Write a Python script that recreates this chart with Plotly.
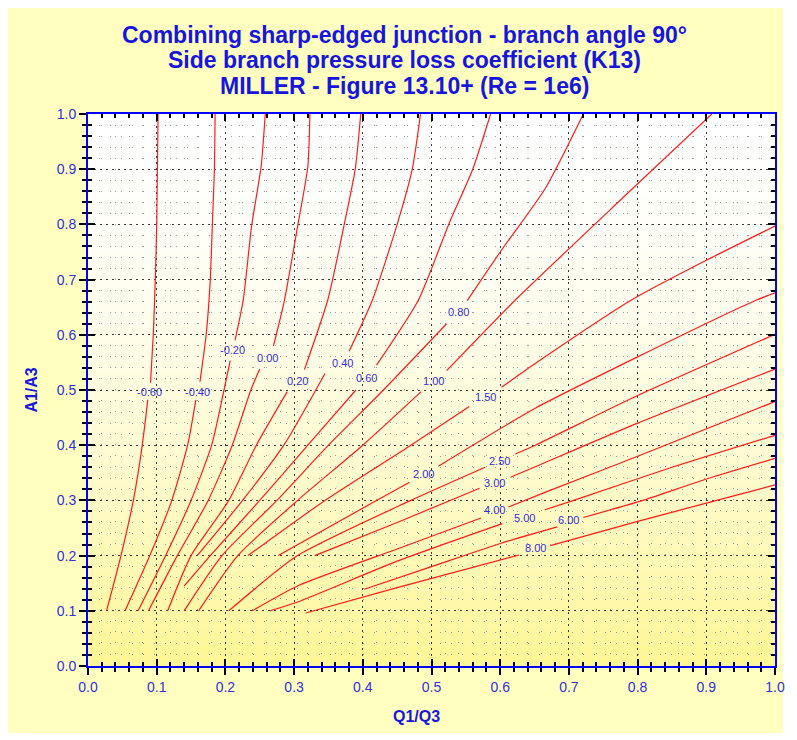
import plotly.graph_objects as go

# K13 contour levels (side branch loss coefficient)
LEVELS = [-0.6, -0.4, -0.2, 0.0, 0.2, 0.4, 0.6, 0.8, 1.0, 1.5, 2.0, 2.5, 3.0, 4.0, 5.0, 6.0, 8.0]

# contour polylines: Q1/Q3 (x) and A1/A3 (y); None marks the gap left for the label
CONTOUR_X = [
    [0.027, 0.048, 0.066, 0.079, 0.087, None, 0.091, 0.095, 0.098, 0.100, 0.101, 0.102],
    [0.054, 0.090, 0.122, 0.145, 0.157, None, 0.163, 0.172, 0.178, 0.181, 0.184, 0.185],
    [0.073, 0.113, 0.150, 0.180, 0.198, 0.207, None, 0.214, 0.226, 0.238, 0.252, 0.258],
    [0.088, 0.130, 0.175, 0.210, 0.237, 0.250, None, 0.270, 0.286, 0.305, 0.320, 0.323],
    [0.116, 0.150, 0.205, 0.245, 0.290, None, 0.315, 0.349, 0.373, 0.389, 0.397],
    [0.159, 0.225, 0.285, 0.345, None, 0.380, 0.414, 0.450, 0.472, 0.484],
    [0.140, 0.178, 0.250, 0.320, 0.390, None, 0.420, 0.481, 0.525, 0.560, 0.586],
    [0.140, 0.195, 0.275, 0.350, 0.430, 0.522, None, 0.552, 0.600, 0.666, 0.721],
    [0.161, 0.218, 0.305, 0.400, 0.485, None, 0.522, 0.622, 0.780, 0.908],
    [0.233, 0.345, 0.470, 0.555, None, 0.602, 0.651, 0.791, 0.900, 1.000],
    [0.277, 0.420, 0.468, None, 0.510, 0.651, 0.800, 0.973, 1.000],
    [0.205, 0.305, 0.470, 0.578, None, 0.622, 0.651, 0.800, 1.000],
    [0.330, 0.450, 0.570, None, 0.615, 0.651, 0.800, 1.000],
    [0.239, 0.305, 0.450, 0.572, None, 0.612, 0.666, 0.800, 1.000],
    [0.265, 0.305, 0.450, 0.603, None, 0.665, 0.709, 0.850, 1.000],
    [0.402, 0.500, 0.600, 0.683, None, 0.721, 0.810, 0.896, 1.000],
    [0.317, 0.450, 0.627, None, 0.673, 0.800, 0.900, 1.000],
]
CONTOUR_Y = [
    [0.10, 0.20, 0.30, 0.40, 0.482, None, 0.513, 0.60, 0.70, 0.80, 0.90, 1.00],
    [0.10, 0.20, 0.30, 0.40, 0.482, None, 0.515, 0.60, 0.70, 0.80, 0.90, 1.00],
    [0.10, 0.20, 0.30, 0.40, 0.50, 0.553, None, 0.590, 0.663, 0.796, 0.905, 1.00],
    [0.10, 0.20, 0.30, 0.40, 0.50, 0.538, None, 0.580, 0.663, 0.796, 0.905, 1.00],
    [0.10, 0.20, 0.30, 0.40, 0.497, None, 0.537, 0.663, 0.80, 0.90, 1.00],
    [0.20, 0.30, 0.40, 0.53, None, 0.570, 0.663, 0.80, 0.90, 1.00],
    [0.145, 0.20, 0.30, 0.40, 0.500, None, 0.545, 0.663, 0.80, 0.90, 1.00],
    [0.10, 0.20, 0.30, 0.40, 0.50, 0.620, None, 0.662, 0.75, 0.866, 1.00],
    [0.10, 0.20, 0.30, 0.40, 0.497, None, 0.535, 0.663, 0.85, 1.00],
    [0.20, 0.30, 0.40, 0.470, None, 0.505, 0.548, 0.663, 0.735, 0.797],
    [0.20, 0.30, 0.333, None, 0.362, 0.467, 0.56, 0.663, 0.676],
    [0.10, 0.20, 0.30, 0.360, None, 0.384, 0.400, 0.49, 0.601],
    [0.20, 0.26, 0.322, None, 0.342, 0.361, 0.44, 0.538],
    [0.10, 0.145, 0.212, 0.268, None, 0.288, 0.315, 0.38, 0.479],
    [0.10, 0.116, 0.19, 0.258, None, 0.283, 0.301, 0.36, 0.418],
    [0.139, 0.18, 0.222, 0.252, None, 0.269, 0.301, 0.337, 0.376],
    [0.096, 0.142, 0.201, None, 0.218, 0.262, 0.295, 0.328],
]
# label anchor points on each contour
LABEL_X = [0.089, 0.160, 0.211, 0.262, 0.305, 0.370, 0.406, 0.540, 0.503, 0.579,
           0.488, 0.599, 0.592, 0.591, 0.635, 0.700, 0.651]
LABEL_Y = [0.497, 0.497, 0.572, 0.558, 0.516, 0.549, 0.522, 0.641, 0.516, 0.487,
           0.348, 0.371, 0.332, 0.283, 0.268, 0.264, 0.214]

TITLE_LINES = [
    "Combining sharp-edged junction - branch angle 90°",
    "Side branch pressure loss coefficient (K13)",
    "MILLER - Figure 13.10+ (Re = 1e6)",
]
X_TITLE = "Q1/Q3"
Y_TITLE = "A1/A3"

W, H = 797, 740
L, R, T, B = 88, 15, 114, 74
PW, PH = W - L - R, H - T - B

BLUE = "#1616e0"
TICKBLUE = "#3030e0"
FONT = "Liberation Sans, Arial, sans-serif"


def px_x(px):
    return (px - L) / PW


def px_y(py):
    return (H - B - py) / PH


fig = go.Figure()

for lvl, xs, ys, lx, ly in zip(LEVELS, CONTOUR_X, CONTOUR_Y, LABEL_X, LABEL_Y):
    fig.add_trace(go.Scatter(
        x=xs, y=ys, mode="lines",
        line=dict(color="#ff1c1c", width=1.2, shape="spline", smoothing=0.6),
        connectgaps=False, hoverinfo="skip", showlegend=False,
    ))
    fig.add_annotation(x=lx, y=ly, text=f"{lvl:.2f}", showarrow=False,
                       font=dict(family=FONT, size=11, color=TICKBLUE),
                       xanchor="center", yanchor="middle")

# helper trace so the overlay axes (inner ticks) get drawn
fig.add_trace(go.Scatter(x=[0, 1], y=[0, 1], xaxis="x2", yaxis="y2", mode="markers",
                         marker=dict(opacity=0), hoverinfo="skip", showlegend=False))

axis_common = dict(
    range=[0, 1], dtick=0.1, tick0=0, tickformat=".1f",
    showline=True, linecolor="#0000ff", linewidth=2,
    tickcolor="#000000", tickwidth=2, ticklen=7, ticks="outside",
    tickfont=dict(family=FONT, size=14, color=TICKBLUE),
    showgrid=True, gridcolor="#3a3a3a", gridwidth=1, griddash="2px,4px",
    zeroline=False,
    minor=dict(dtick=0.02, ticks="outside", ticklen=4, tickcolor="#000000", tickwidth=1.5,
               showgrid=True, gridcolor="#9a9a9a", gridwidth=1, griddash="1px,10px"),
)
overlay_common = dict(
    range=[0, 1], dtick=0.1, tick0=0, showticklabels=False,
    showline=True, linecolor="#0000ff", linewidth=2, mirror="allticks",
    ticks="inside", tickcolor="#000000", tickwidth=2, ticklen=7,
    showgrid=False, zeroline=False,
    minor=dict(dtick=0.02, ticks="inside", ticklen=4, tickcolor="#000000", tickwidth=1.5, showgrid=False),
)

# light-yellow panel behind everything
shapes = [dict(type="rect", xref="paper", yref="paper", layer="below",
               x0=px_x(7), x1=px_x(790), y0=px_y(733), y1=px_y(8),
               fillcolor="#ffffc0", line=dict(width=0))]

# plot-area wash, white at the top fading to yellow at the bottom (below the grid)
N_BANDS = 60
top_rgb, bot_rgb = (255, 255, 255), (255, 246, 150)
for i in range(N_BANDS):
    y0, y1 = i / N_BANDS, (i + 1) / N_BANDS
    t = (1 - (y0 + y1) / 2) ** 1.7
    c = tuple(round(a + (b - a) * t) for a, b in zip(top_rgb, bot_rgb))
    shapes.append(dict(type="rect", xref="x", yref="y", layer="below",
                       x0=0, x1=1, y0=y0, y1=y1 + 0.002,
                       fillcolor=f"rgb{c}", line=dict(width=0)))

fig.update_layout(
    width=W, height=H,
    margin=dict(l=L, r=R, t=T, b=B),
    paper_bgcolor="#ffffff", plot_bgcolor="rgba(0,0,0,0)",
    showlegend=False,
    xaxis=axis_common,
    yaxis=axis_common,
    xaxis2=dict(**overlay_common, overlaying="x", anchor="y2", side="bottom"),
    yaxis2=dict(**overlay_common, overlaying="y", anchor="x2", side="left"),
    shapes=shapes,
)

# three centred title lines
for txt, py in zip(TITLE_LINES, [35, 60, 86]):
    fig.add_annotation(xref="paper", yref="paper", x=px_x(408), y=px_y(py),
                       text=f"<b>{txt}</b>", showarrow=False, xanchor="center", yanchor="middle",
                       font=dict(family=FONT, size=23, color=BLUE))

# axis titles
fig.add_annotation(xref="paper", yref="paper", x=px_x(420), y=px_y(716),
                   text=f"<b>{X_TITLE}</b>", showarrow=False, xanchor="center", yanchor="middle",
                   font=dict(family=FONT, size=16, color=BLUE))
fig.add_annotation(xref="paper", yref="paper", x=px_x(30), y=px_y(390),
                   text=f"<b>{Y_TITLE}</b>", showarrow=False, textangle=-90,
                   xanchor="center", yanchor="middle",
                   font=dict(family=FONT, size=16, color=BLUE))

fig.write_html("out.html")
